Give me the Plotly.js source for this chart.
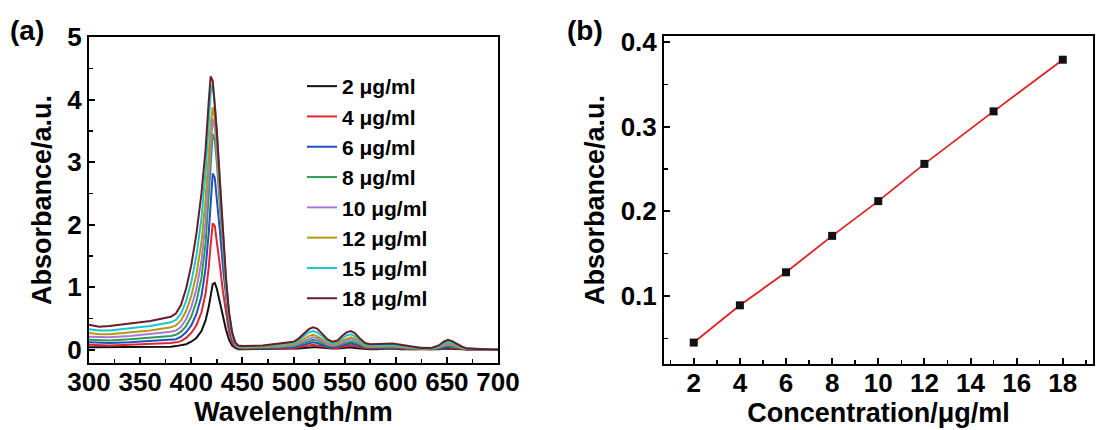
<!DOCTYPE html>
<html><head><meta charset="utf-8">
<script src="https://cdn.plot.ly/plotly-3.0.1.min.js"></script>
<style>html,body{margin:0;padding:0;background:#fff}#chart{width:1100px;height:430px}</style>
</head><body><div id="chart"></div>
<script>
// ---------- Panel (a): UV-vis spectra ----------
const wavelength = [300,310,320,340,360,380,385,390,395,400,405,410,414,417,419,421,423,425,428,431,434,437,440,443,446,450,460,470,480,490,500,505,510,515,519,523,528,533,538,543,548,552,556,560,565,570,575,580,590,597,605,615,625,635,642,647,651,655,660,665,670,680,690,700];

const abs2  = [0.04,0.04,0.04,0.04,0.05,0.05,0.06,0.07,0.09,0.13,0.19,0.30,0.47,0.68,0.88,1.05,1.07,0.98,0.76,0.53,0.32,0.16,0.07,0.03,0.01,0.01,0.01,0.01,0.01,0.01,0.02,0.02,0.03,0.04,0.04,0.04,0.03,0.02,0.02,0.02,0.03,0.03,0.04,0.03,0.02,0.01,0.01,0.01,0.02,0.02,0.01,0.01,0.00,0.00,0.01,0.02,0.02,0.02,0.01,0.01,0.00,0.00,0.00,0.00];
const abs4  = [0.08,0.07,0.07,0.08,0.09,0.11,0.12,0.14,0.19,0.27,0.39,0.60,0.90,1.30,1.68,2.02,1.98,1.75,1.35,0.93,0.56,0.28,0.12,0.05,0.02,0.02,0.02,0.02,0.02,0.03,0.03,0.04,0.05,0.07,0.08,0.07,0.05,0.04,0.03,0.03,0.05,0.06,0.07,0.06,0.04,0.03,0.02,0.02,0.03,0.03,0.02,0.01,0.01,0.01,0.02,0.03,0.04,0.03,0.02,0.01,0.01,0.00,0.00,0.00];
const abs6  = [0.12,0.11,0.11,0.12,0.14,0.16,0.17,0.21,0.28,0.39,0.57,0.86,1.30,1.85,2.35,2.82,2.75,2.45,1.90,1.32,0.80,0.40,0.17,0.07,0.03,0.03,0.02,0.03,0.03,0.04,0.04,0.06,0.08,0.11,0.12,0.11,0.08,0.05,0.04,0.05,0.07,0.09,0.10,0.09,0.06,0.04,0.03,0.03,0.04,0.04,0.03,0.02,0.01,0.01,0.02,0.04,0.05,0.05,0.03,0.02,0.01,0.00,0.00,0.00];
const abs8  = [0.16,0.15,0.15,0.17,0.19,0.22,0.24,0.29,0.38,0.53,0.77,1.15,1.70,2.40,2.95,3.45,3.35,3.00,2.30,1.60,0.95,0.48,0.20,0.08,0.04,0.03,0.03,0.04,0.04,0.05,0.06,0.08,0.11,0.14,0.16,0.15,0.11,0.07,0.06,0.07,0.10,0.12,0.13,0.12,0.08,0.05,0.04,0.04,0.05,0.05,0.04,0.02,0.01,0.01,0.03,0.06,0.07,0.06,0.04,0.02,0.01,0.01,0.00,0.00];
const abs10 = [0.21,0.20,0.20,0.22,0.25,0.29,0.31,0.37,0.49,0.68,0.97,1.42,2.05,2.75,3.30,3.70,3.55,3.15,2.45,1.70,1.00,0.52,0.22,0.09,0.05,0.04,0.04,0.04,0.05,0.06,0.07,0.10,0.14,0.18,0.20,0.19,0.14,0.09,0.07,0.08,0.12,0.15,0.17,0.15,0.10,0.06,0.05,0.05,0.06,0.06,0.04,0.03,0.02,0.02,0.04,0.07,0.09,0.08,0.05,0.03,0.01,0.01,0.00,0.00];
const abs12 = [0.27,0.25,0.25,0.28,0.31,0.36,0.39,0.47,0.62,0.86,1.20,1.72,2.40,3.10,3.60,3.88,3.70,3.30,2.55,1.78,1.05,0.55,0.24,0.10,0.05,0.04,0.04,0.05,0.06,0.07,0.09,0.12,0.17,0.22,0.24,0.22,0.17,0.11,0.09,0.10,0.15,0.18,0.20,0.18,0.12,0.07,0.06,0.06,0.07,0.07,0.05,0.03,0.02,0.02,0.05,0.09,0.11,0.10,0.06,0.03,0.02,0.01,0.01,0.00];
const abs15 = [0.33,0.31,0.31,0.34,0.38,0.44,0.48,0.58,0.78,1.08,1.50,2.10,2.85,3.60,4.10,4.25,3.95,3.50,2.65,1.85,1.10,0.58,0.26,0.11,0.06,0.05,0.05,0.06,0.08,0.09,0.11,0.15,0.22,0.28,0.30,0.28,0.22,0.14,0.11,0.13,0.19,0.23,0.25,0.22,0.15,0.09,0.08,0.08,0.08,0.08,0.07,0.04,0.03,0.03,0.06,0.11,0.13,0.12,0.08,0.04,0.02,0.01,0.01,0.00];
const abs18 = [0.40,0.37,0.38,0.42,0.46,0.53,0.58,0.72,0.98,1.35,1.85,2.50,3.20,3.95,4.37,4.30,3.95,3.50,2.70,1.90,1.15,0.60,0.28,0.12,0.07,0.06,0.06,0.07,0.09,0.11,0.13,0.18,0.26,0.33,0.36,0.34,0.26,0.17,0.13,0.15,0.23,0.28,0.30,0.27,0.18,0.11,0.09,0.09,0.10,0.10,0.08,0.05,0.03,0.03,0.07,0.13,0.16,0.14,0.09,0.05,0.02,0.01,0.01,0.00];

const seriesNames  = ["2 μg/ml","4 μg/ml","6 μg/ml","8 μg/ml","10 μg/ml","12 μg/ml","15 μg/ml","18 μg/ml"];
const seriesColors = ["#111111","#e0262a","#1f4fc0","#2e9a4e","#a77ad8","#b59a10","#18c8d0","#6a1c2a"];

// ---------- Panel (b): calibration ----------
const concentration = [2,4,6,8,10,12,15,18];
const absorbanceB   = [0.045,0.089,0.128,0.171,0.212,0.256,0.318,0.379];

// ---------- Tick labels ----------
const xTicksA = [300,350,400,450,500,550,600,650,700];
const yTicksA = [0,1,2,3,4,5];
const xTicksB = [2,4,6,8,10,12,14,16,18];
const yTicksB = [0.1,0.2,0.3,0.4];

const FONT = "Liberation Sans, Arial, sans-serif";
const W = 1100, H = 430;
const px = (a,b)=>[a/W,b/W];
const py = (top,bottom)=>[1-bottom/H, 1-top/H];

const allA = [abs2,abs4,abs6,abs8,abs10,abs12,abs15,abs18];
const traces = allA.map((ys,i)=>({
  x: wavelength, y: ys, type:"scatter", mode:"lines", name: seriesNames[i],
  line:{color:seriesColors[i], width:2}, xaxis:"x", yaxis:"y", showlegend:true
}));
traces.push({
  x: concentration, y: absorbanceB, type:"scatter", mode:"lines",
  line:{color:"#e02020", width:1.8}, xaxis:"x2", yaxis:"y2", showlegend:false
});
traces.push({
  x: concentration, y: absorbanceB, type:"scatter", mode:"markers",
  marker:{symbol:"square", size:8, color:"#111"}, xaxis:"x2", yaxis:"y2", showlegend:false
});

const axisCommon = {
  showgrid:false, zeroline:false, showline:true, linecolor:"#000", linewidth:2, mirror:true,
  ticks:"inside", ticklen:6, tickwidth:2, tickcolor:"#000",
  tickfont:{family:FONT, size:26, color:"#000", weight:"bold"},
  minor:{ticks:"inside", ticklen:4, tickwidth:1.5, tickcolor:"#000"}
};
const titleFont = {family:FONT, size:27, color:"#000", weight:"bold"};

const layout = {
  width:W, height:H, margin:{l:0,r:0,t:0,b:0}, paper_bgcolor:"#fff", plot_bgcolor:"#fff",
  showlegend:true,
  legend:{x:302/W, y:1-66/H, xanchor:"left", yanchor:"top", bgcolor:"rgba(0,0,0,0)",
    font:{family:FONT, size:21, color:"#000", weight:"bold"}, tracegroupgap:0},
  xaxis: Object.assign({}, axisCommon, {domain:px(89,498), range:[300,700], tickvals:xTicksA,
    minor:Object.assign({}, axisCommon.minor, {dtick:25, tick0:300}), anchor:"y",
    ticklabelstandoff:-5,
    title:{text:"Wavelength/nm", font:titleFont, standoff:2}}),
  yaxis: Object.assign({}, axisCommon, {domain:py(37,363), range:[-0.21,5], tickvals:yTicksA,
    minor:Object.assign({}, axisCommon.minor, {dtick:0.5, tick0:0}), anchor:"x",
    title:{text:"Absorbance/a.u.", font:titleFont, standoff:8}}),
  xaxis2: Object.assign({}, axisCommon, {domain:px(664,1093), range:[0.71,19.31], tickvals:xTicksB,
    minor:Object.assign({}, axisCommon.minor, {dtick:1, tick0:1}), anchor:"y2",
    ticklabelstandoff:-5,
    title:{text:"Concentration/μg/ml", font:titleFont, standoff:2}}),
  yaxis2: Object.assign({}, axisCommon, {domain:py(36,364), range:[0.0197,0.407], tickvals:yTicksB,
    minor:Object.assign({}, axisCommon.minor, {dtick:0.05, tick0:0}), anchor:"x2",
    title:{text:"Absorbance/a.u.", font:titleFont, standoff:8}}),
  annotations:[
    {text:"(a)", x:8/W, y:1-30/H, xref:"paper", yref:"paper", xanchor:"left", yanchor:"middle", showarrow:false,
     font:{family:FONT, size:28, color:"#000", weight:"bold"}},
    {text:"(b)", x:565/W, y:1-30/H, xref:"paper", yref:"paper", xanchor:"left", yanchor:"middle", showarrow:false,
     font:{family:FONT, size:28, color:"#000", weight:"bold"}}
  ]
};

Plotly.newPlot("chart", traces, layout, {staticPlot:true, displayModeBar:false});
</script>
</body></html>
